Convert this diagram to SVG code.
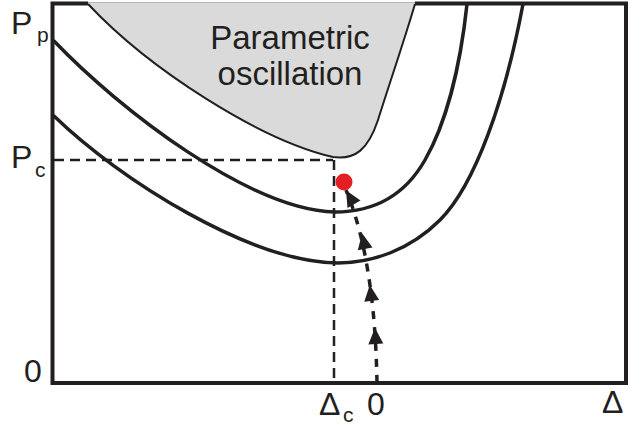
<svg xmlns="http://www.w3.org/2000/svg" width="643" height="425" viewBox="0 0 643 425">
<style>
  .lbl { font-family: "Liberation Sans", Arial, sans-serif; fill: #231f20; }
  .big { font-size: 32px; }
  .sub { font-size: 21px; }
  .curve { fill: none; stroke: #231f20; stroke-width: 3.5; stroke-linecap: round; }
  .dash { fill: none; stroke: #231f20; stroke-width: 2.5; stroke-dasharray: 10 6; }
  .traj { fill: none; stroke: #231f20; stroke-width: 3.5; stroke-dasharray: 8 8; }
  .axis { fill: none; stroke: #231f20; stroke-width: 4; }
</style>
<defs>
  <path id="ah" d="M0,-10 L7.5,6 L-7.5,6 Z" fill="#231f20"/>
</defs>
<rect width="643" height="425" fill="#ffffff"/>

<g id="parametric-region">
  <path d="M88,2 L416,2 L415,4 C405,38 390,82 378,120 C368,150 355,160 333,157 C260,140 150,70 88,4 Z" fill="#dadada"/>
  <path d="M88,4 C150,70 260,140 333,157 C355,160 368,150 378,120 C390,82 405,38 415,4" fill="none" stroke="#231f20" stroke-width="2"/>
  <line x1="88" y1="2.5" x2="415" y2="2.5" stroke="#b5b5b5" stroke-width="1"/>
  <text class="lbl" font-size="33" x="290" y="49" text-anchor="middle">Parametric</text>
  <text class="lbl" font-size="33" x="290" y="85" text-anchor="middle">oscillation</text>
</g>

<g id="axes">
  <path class="axis" d="M88,3.5 L52.5,3.5 L52.5,383 L626,383 L626,3.5 L415,3.5"/>
</g>

<g id="curve-upper">
  <path class="curve" d="M54,41 C120,110 250,210 335,212 C375,212 405,195 425,160 C445,125 460,70 467,4"/>
</g>
<g id="curve-lower">
  <path class="curve" d="M54,116 C120,180 250,262 338,263 C372,263 410,250 440,220 C475,185 505,100 523,4"/>
</g>

<g id="connectors">
  <line class="dash" x1="54" y1="160" x2="333" y2="160"/>
  <line class="dash" x1="334" y1="160" x2="334" y2="383"/>
  <path class="traj" d="M377,383 C376,330 372,290 364,250 C358,222 352,205 346,190"/>
  <use href="#ah" transform="translate(375.5,338) rotate(-3)"/>
  <use href="#ah" transform="translate(371,295) rotate(-7)"/>
  <use href="#ah" transform="translate(364,243) rotate(-11)"/>
  <use href="#ah" transform="translate(351,199) rotate(-30)"/>
</g>

<g id="point">
  <circle cx="344" cy="182" r="8.5" fill="#e31e24"/>
</g>

<g id="labels">
  <text class="lbl big" x="11" y="34">P</text>
  <text class="lbl sub" x="37" y="42">p</text>
  <text class="lbl big" x="11" y="168">P</text>
  <text class="lbl sub" x="35" y="177">c</text>
  <text class="lbl big" x="24" y="382">0</text>
  <text class="lbl big" x="319" y="415">Δ</text>
  <text class="lbl sub" x="343" y="422">c</text>
  <text class="lbl big" x="367" y="415">0</text>
  <text class="lbl big" x="602" y="413">Δ</text>
</g>
</svg>
